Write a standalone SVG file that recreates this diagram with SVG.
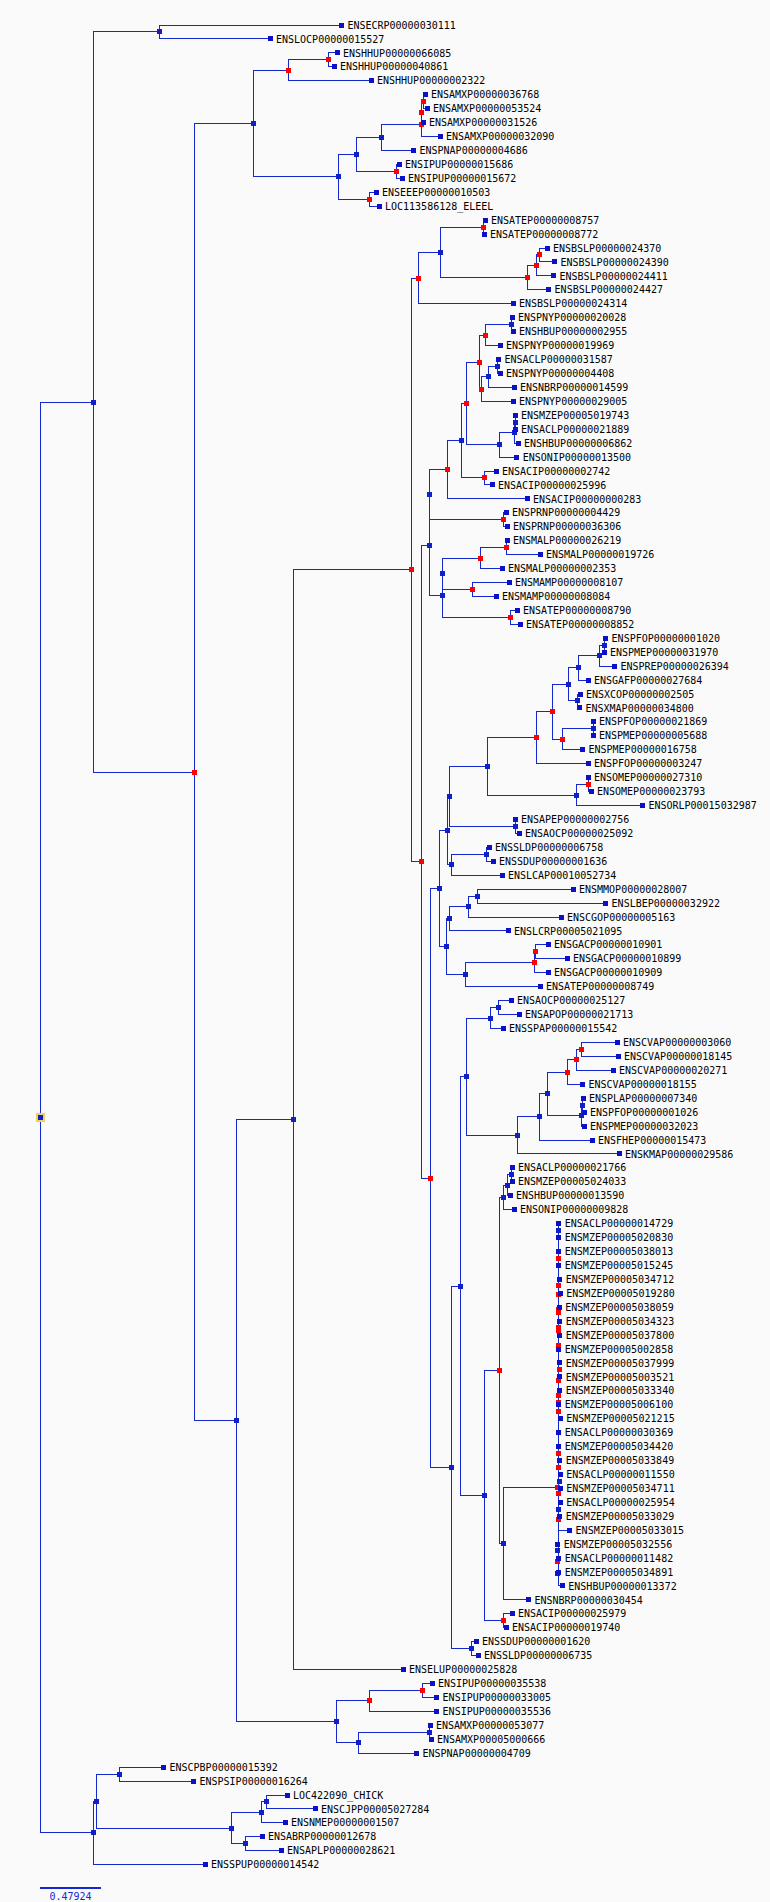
<svg xmlns="http://www.w3.org/2000/svg" xmlns:xlink="http://www.w3.org/1999/xlink" width="770" height="1902" viewBox="0 0 770 1902">
<style>
.e{fill:none;stroke:#1428d0;stroke-width:1;shape-rendering:crispEdges}
.lq{fill:#0c10c8}
.nb{fill:#1020c8}
.nr{fill:#ff0000}
use{shape-rendering:crispEdges}
text{font-family:"DejaVu Sans Mono","Liberation Mono",monospace;font-size:10px;fill:#000}
</style>
<defs><rect id="s" x="-2.5" y="-2.5" width="5" height="5"/></defs>
<rect width="770" height="1902" fill="#fafafa"/>
<g id="connectors" class="e">
<path d="M93 402H40.8V1832.9H93.3"/>
<path d="M159.6 31.95H93V772.1H194.5"/>
<path d="M341.4 25H159.6V38.9H270"/>
<path d="M253.4 123.55H194.5V1420.7H236.7"/>
<path d="M288.3 70.3H253.4V176.8H338.4"/>
<path d="M328.6 59.85H288.3V80.7H371"/>
<path d="M337 52.9H328.6V66.8H334"/>
<path d="M356.6 154.35H338.4V199.2H369.4"/>
<path d="M381.6 137.35H356.6V171.35H396.4"/>
<path d="M421.4 124.3H381.6V150.4H413.5"/>
<path d="M421.4 112.1V136.5H440"/>
<path d="M423.4 101.65H421.4V122.6H423"/>
<path d="M425 94.7H423.4V108.6H427"/>
<path d="M399 164.4H396.4V178.3H402"/>
<path d="M376 192.2H369.4V206.2H379"/>
<path d="M293.7 1119.65H236.7V1721.8H336.4"/>
<path d="M411.6 569.8H293.7V1669.5H403"/>
<path d="M418.5 278H411.6V861.6H421.4"/>
<path d="M440.6 252.35H418.5V303.7H513"/>
<path d="M483.8 227.1H440.6V277.6H527.5"/>
<path d="M485 220.1H483.8V234.1H484"/>
<path d="M536.3 265.4H527.5V289.8H548.6"/>
<path d="M539.8 254.95H536.3V275.9H553.5"/>
<path d="M547 248H539.8V261.9H554.5"/>
<path d="M429.8 545.2H421.4V1178H430.7"/>
<path d="M429.8 494.8V595.6H442.5"/>
<path d="M447 469.8H429.8V519.75H503.4"/>
<path d="M461.7 440.7H447V498.9H527"/>
<path d="M466.1 403.45H461.7V477.95H484.8"/>
<path d="M479.4 362.1H466.1V444.8H499.5"/>
<path d="M485.8 335.1H479.4V389.1H481.3"/>
<path d="M511.8 324.65H485.8V345.6H500"/>
<path d="M512 317.7H511.8V331.6H513"/>
<path d="M488.7 376.9H481.3V401.3H513"/>
<path d="M497.5 366.45H488.7V387.4H514"/>
<path d="M498.5 359.5H497.5V373.4H500"/>
<path d="M514.7 432.65H499.5V457H516.7"/>
<path d="M515.2 422.2H514.7V443.1H518"/>
<path d="M515 415.2H515.2V429.2H515"/>
<path d="M496 471H484.8V484.9H492"/>
<path d="M506 512.8H503.4V526.7H507"/>
<path d="M442.5 573.8V617.35H510.8"/>
<path d="M480.4 558.1H442.5V589.45H472.5"/>
<path d="M506.4 547.65H480.4V568.5H502"/>
<path d="M507 540.7H506.4V554.6H540"/>
<path d="M509 582.5H472.5V596.4H496"/>
<path d="M517 610.4H510.8V624.3H520"/>
<path d="M439.6 888.6H430.7V1467.4H451.9"/>
<path d="M447.4 830.55H439.6V946.6H446.5"/>
<path d="M449.4 796.4H447.4V864.7H451.4"/>
<path d="M487.7 766.4H449.4V826.35H515.2"/>
<path d="M536.3 737.75H487.7V795H576.1"/>
<path d="M552.6 711.8H536.3V763.7H588"/>
<path d="M568.8 684.4H552.6V739.25H562.4"/>
<path d="M578.6 667.8H568.8V700.95H577.1"/>
<path d="M599.7 655.65H578.6V680H588"/>
<path d="M604.1 645.2H599.7V666.1H614.5"/>
<path d="M605.6 638.2H604.1V652.2H604"/>
<path d="M580 694H577.1V707.9H579.5"/>
<path d="M593.3 728.8H562.4V749.7H582.5"/>
<path d="M593 721.8H593.3V735.8H593"/>
<path d="M588.4 784.55H576.1V805.5H642.4"/>
<path d="M588 777.6H588.4V791.5H591"/>
<path d="M515 819.4H515.2V833.3H519"/>
<path d="M486.2 854.25H451.4V875.2H502"/>
<path d="M489 847.3H486.2V861.2H493"/>
<path d="M449 918.7H446.5V974.5H465.6"/>
<path d="M468.6 906.5H449V930.9H508"/>
<path d="M477.4 896.05H468.6V917H561"/>
<path d="M573 889.1H477.4V903H605.6"/>
<path d="M534.4 962.25H465.6V986.7H540"/>
<path d="M535.4 951.8H534.4V972.7H548"/>
<path d="M548 944.8H535.4V958.8H567"/>
<path d="M460.7 1286.15H451.9V1648.65H471.5"/>
<path d="M466.6 1076.7H460.7V1495.6H484.8"/>
<path d="M490.7 1018H466.6V1135.4H517.2"/>
<path d="M498.5 1007.55H490.7V1028.5H503"/>
<path d="M511 1000.6H498.5V1014.5H519"/>
<path d="M539.8 1116.9H517.2V1153.9H619"/>
<path d="M547.6 1093.8H539.8V1140H592"/>
<path d="M567.8 1072H547.6V1115.55H581.5"/>
<path d="M576.1 1059.8H567.8V1084.2H582.5"/>
<path d="M581.5 1049.35H576.1V1070.3H613"/>
<path d="M617 1042.4H581.5V1056.3H618"/>
<path d="M582.5 1105.1H581.5V1126H584"/>
<path d="M583 1098.1H582.5V1112.1H584"/>
<path d="M499.5 1370.5H484.8V1620.75H503.4"/>
<path d="M503.4 1197.4H499.5V1543.6H503.4"/>
<path d="M507.4 1185.25H503.4V1209.6H514"/>
<path d="M511.8 1174.8H507.4V1195.7H510"/>
<path d="M512 1167.8H511.8V1181.8H512"/>
<path d="M558 1487.3H503.4V1599.9H528.5"/>
<path d="M558 1223.6V1585.9H562.3M558 1530.2H569.6"/>
<path d="M512 1613.8H503.4V1627.7H506"/>
<path d="M476 1641.7H471.5V1655.6H478"/>
<path d="M369.4 1700.9H336.4V1742.7H358.5"/>
<path d="M422.4 1690.45H369.4V1711.4H436.6"/>
<path d="M432 1683.5H422.4V1697.4H436.6"/>
<path d="M429.8 1732.25H358.5V1753.2H416.5"/>
<path d="M430 1725.3H429.8V1739.2H431"/>
<path d="M96.3 1801.1H93.3V1864.7H205"/>
<path d="M119.8 1774.05H96.3V1828.1H231.3"/>
<path d="M163.5 1767.1H119.8V1781H193.5"/>
<path d="M261.3 1812.4H231.3V1843.75H245.6"/>
<path d="M266.2 1801.95H261.3V1822.8H285"/>
<path d="M287 1795H266.2V1808.9H315"/>
<path d="M262 1836.8H245.6V1850.7H281"/>
</g>
<g id="root"><rect x="36" y="1113" width="9" height="9" fill="#f0d060"/><rect x="38" y="1115" width="5" height="5" fill="#1020c8"/></g>
<g id="n-A"><use href="#s" class="nb" x="93" y="402"/></g>
<g id="n-B"><use href="#s" class="nb" x="159.6" y="31.95"/></g>
<g id="n-C"><use href="#s" class="nr" x="194.5" y="772.1"/></g>
<g id="n-D"><use href="#s" class="nb" x="253.4" y="123.55"/></g>
<g id="n-E"><use href="#s" class="nr" x="288.3" y="70.3"/></g>
<g id="n-G"><use href="#s" class="nr" x="328.6" y="59.85"/></g>
<g id="n-F"><use href="#s" class="nb" x="338.4" y="176.8"/></g>
<g id="n-H"><use href="#s" class="nb" x="356.6" y="154.35"/></g>
<g id="n-J"><use href="#s" class="nb" x="381.6" y="137.35"/></g>
<g id="n-L"><use href="#s" class="nr" x="421.4" y="124.3"/></g>
<g id="n-M"><use href="#s" class="nr" x="421.4" y="112.1"/></g>
<g id="n-N"><use href="#s" class="nr" x="423.4" y="101.65"/></g>
<g id="n-K"><use href="#s" class="nr" x="396.4" y="171.35"/></g>
<g id="n-I"><use href="#s" class="nr" x="369.4" y="199.2"/></g>
<g id="n-O"><use href="#s" class="nb" x="236.7" y="1420.7"/></g>
<g id="n-P"><use href="#s" class="nb" x="293.7" y="1119.65"/></g>
<g id="n-Q"><use href="#s" class="nr" x="411.6" y="569.8"/></g>
<g id="n-QA"><use href="#s" class="nr" x="418.5" y="278"/></g>
<g id="n-QA1"><use href="#s" class="nb" x="440.6" y="252.35"/></g>
<g id="n-QAa"><use href="#s" class="nr" x="483.8" y="227.1"/></g>
<g id="n-QA12"><use href="#s" class="nr" x="527.5" y="277.6"/></g>
<g id="n-n2"><use href="#s" class="nr" x="536.3" y="265.4"/></g>
<g id="n-n1"><use href="#s" class="nr" x="539.8" y="254.95"/></g>
<g id="n-QB"><use href="#s" class="nr" x="421.4" y="861.6"/></g>
<g id="n-QB1"><use href="#s" class="nb" x="429.8" y="545.2"/></g>
<g id="n-QB1a"><use href="#s" class="nb" x="429.8" y="494.8"/></g>
<g id="n-p13"><use href="#s" class="nr" x="447" y="469.8"/></g>
<g id="n-p12"><use href="#s" class="nb" x="461.7" y="440.7"/></g>
<g id="n-p10"><use href="#s" class="nr" x="466.1" y="403.45"/></g>
<g id="n-p6"><use href="#s" class="nr" x="479.4" y="362.1"/></g>
<g id="n-p2"><use href="#s" class="nr" x="485.8" y="335.1"/></g>
<g id="n-p1"><use href="#s" class="nb" x="511.8" y="324.65"/></g>
<g id="n-p5"><use href="#s" class="nr" x="481.3" y="389.1"/></g>
<g id="n-p4"><use href="#s" class="nb" x="488.7" y="376.9"/></g>
<g id="n-p3"><use href="#s" class="nb" x="497.5" y="366.45"/></g>
<g id="n-p9"><use href="#s" class="nb" x="499.5" y="444.8"/></g>
<g id="n-p8"><use href="#s" class="nb" x="514.7" y="432.65"/></g>
<g id="n-p7"><use href="#s" class="nb" x="515.2" y="422.2"/></g>
<g id="n-p11"><use href="#s" class="nr" x="484.8" y="477.95"/></g>
<g id="n-p14"><use href="#s" class="nr" x="503.4" y="519.75"/></g>
<g id="n-QB1b"><use href="#s" class="nb" x="442.5" y="595.6"/></g>
<g id="n-q4"><use href="#s" class="nb" x="442.5" y="573.8"/></g>
<g id="n-q2"><use href="#s" class="nr" x="480.4" y="558.1"/></g>
<g id="n-q1"><use href="#s" class="nr" x="506.4" y="547.65"/></g>
<g id="n-q3"><use href="#s" class="nr" x="472.5" y="589.45"/></g>
<g id="n-q5"><use href="#s" class="nr" x="510.8" y="617.35"/></g>
<g id="n-QB2"><use href="#s" class="nr" x="430.7" y="1178"/></g>
<g id="n-QB2a"><use href="#s" class="nb" x="439.6" y="888.6"/></g>
<g id="n-r17"><use href="#s" class="nb" x="447.4" y="830.55"/></g>
<g id="n-r14"><use href="#s" class="nb" x="449.4" y="796.4"/></g>
<g id="n-r12"><use href="#s" class="nb" x="487.7" y="766.4"/></g>
<g id="n-r9"><use href="#s" class="nr" x="536.3" y="737.75"/></g>
<g id="n-r8"><use href="#s" class="nr" x="552.6" y="711.8"/></g>
<g id="n-r5"><use href="#s" class="nb" x="568.8" y="684.4"/></g>
<g id="n-r3"><use href="#s" class="nb" x="578.6" y="667.8"/></g>
<g id="n-r2"><use href="#s" class="nb" x="599.7" y="655.65"/></g>
<g id="n-r1"><use href="#s" class="nb" x="604.1" y="645.2"/></g>
<g id="n-r4"><use href="#s" class="nb" x="577.1" y="700.95"/></g>
<g id="n-r7"><use href="#s" class="nr" x="562.4" y="739.25"/></g>
<g id="n-r6"><use href="#s" class="nb" x="593.3" y="728.8"/></g>
<g id="n-r11"><use href="#s" class="nb" x="576.1" y="795"/></g>
<g id="n-r10"><use href="#s" class="nr" x="588.4" y="784.55"/></g>
<g id="n-r13"><use href="#s" class="nb" x="515.2" y="826.35"/></g>
<g id="n-r16"><use href="#s" class="nb" x="451.4" y="864.7"/></g>
<g id="n-r15"><use href="#s" class="nb" x="486.2" y="854.25"/></g>
<g id="n-s7"><use href="#s" class="nb" x="446.5" y="946.6"/></g>
<g id="n-s3"><use href="#s" class="nb" x="449" y="918.7"/></g>
<g id="n-s2"><use href="#s" class="nb" x="468.6" y="906.5"/></g>
<g id="n-s1"><use href="#s" class="nb" x="477.4" y="896.05"/></g>
<g id="n-s6"><use href="#s" class="nb" x="465.6" y="974.5"/></g>
<g id="n-s5"><use href="#s" class="nr" x="534.4" y="962.25"/></g>
<g id="n-s4"><use href="#s" class="nr" x="535.4" y="951.8"/></g>
<g id="n-QB2b"><use href="#s" class="nb" x="451.9" y="1467.4"/></g>
<g id="n-u9"><use href="#s" class="nb" x="460.7" y="1286.15"/></g>
<g id="n-t11"><use href="#s" class="nb" x="466.6" y="1076.7"/></g>
<g id="n-t2"><use href="#s" class="nb" x="490.7" y="1018"/></g>
<g id="n-t1"><use href="#s" class="nb" x="498.5" y="1007.55"/></g>
<g id="n-t10"><use href="#s" class="nb" x="517.2" y="1135.4"/></g>
<g id="n-t9"><use href="#s" class="nb" x="539.8" y="1116.9"/></g>
<g id="n-t8"><use href="#s" class="nb" x="547.6" y="1093.8"/></g>
<g id="n-t5"><use href="#s" class="nr" x="567.8" y="1072"/></g>
<g id="n-t4"><use href="#s" class="nr" x="576.1" y="1059.8"/></g>
<g id="n-t3"><use href="#s" class="nr" x="581.5" y="1049.35"/></g>
<g id="n-t7"><use href="#s" class="nb" x="581.5" y="1115.55"/></g>
<g id="n-t6"><use href="#s" class="nb" x="582.5" y="1105.1"/></g>
<g id="n-u8"><use href="#s" class="nb" x="484.8" y="1495.6"/></g>
<g id="n-u6"><use href="#s" class="nr" x="499.5" y="1370.5"/></g>
<g id="n-u3"><use href="#s" class="nb" x="503.4" y="1197.4"/></g>
<g id="n-u2"><use href="#s" class="nb" x="507.4" y="1185.25"/></g>
<g id="n-u1"><use href="#s" class="nb" x="511.8" y="1174.8"/></g>
<g id="n-u5"><use href="#s" class="nb" x="503.4" y="1543.6"/></g>
<g id="n-u7"><use href="#s" class="nr" x="503.4" y="1620.75"/></g>
<g id="n-u10"><use href="#s" class="nb" x="471.5" y="1648.65"/></g>
<g id="n-mz">
<use href="#s" class="nb" x="558" y="1230.3"/><use href="#s" class="nr" x="558" y="1258"/><use href="#s" class="nr" x="558.5" y="1285"/><use href="#s" class="nr" x="558" y="1294.3"/><use href="#s" class="nr" x="558" y="1309.3"/><use href="#s" class="nr" x="558.5" y="1312.7"/><use href="#s" class="nr" x="558.5" y="1327.7"/><use href="#s" class="nr" x="558" y="1330.7"/><use href="#s" class="nr" x="558" y="1345"/><use href="#s" class="nr" x="559" y="1369.3"/><use href="#s" class="nr" x="558" y="1380"/><use href="#s" class="nr" x="558" y="1395.3"/><use href="#s" class="nr" x="558" y="1402"/><use href="#s" class="nr" x="558" y="1411.3"/><use href="#s" class="nr" x="558" y="1453.3"/><use href="#s" class="nr" x="558" y="1467"/><use href="#s" class="nb" x="559" y="1481.3"/><use href="#s" class="nr" x="557.5" y="1487.3"/><use href="#s" class="nr" x="558" y="1493.3"/><use href="#s" class="nb" x="558" y="1509.3"/><use href="#s" class="nr" x="558" y="1519.3"/><use href="#s" class="nb" x="557" y="1550.3"/><use href="#s" class="nr" x="557" y="1561.3"/><use href="#s" class="nb" x="557" y="1573.3"/>
</g>
<g id="n-R"><use href="#s" class="nb" x="336.4" y="1721.8"/></g>
<g id="n-S"><use href="#s" class="nr" x="369.4" y="1700.9"/></g>
<g id="n-U"><use href="#s" class="nr" x="422.4" y="1690.45"/></g>
<g id="n-T"><use href="#s" class="nb" x="358.5" y="1742.7"/></g>
<g id="n-V"><use href="#s" class="nb" x="429.8" y="1732.25"/></g>
<g id="n-W"><use href="#s" class="nb" x="93.3" y="1832.9"/></g>
<g id="n-X"><use href="#s" class="nb" x="96.3" y="1801.1"/></g>
<g id="n-Y"><use href="#s" class="nb" x="119.8" y="1774.05"/></g>
<g id="n-Z"><use href="#s" class="nb" x="231.3" y="1828.1"/></g>
<g id="n-AA"><use href="#s" class="nb" x="261.3" y="1812.4"/></g>
<g id="n-AC"><use href="#s" class="nb" x="266.2" y="1801.95"/></g>
<g id="n-AB"><use href="#s" class="nb" x="245.6" y="1843.75"/></g>
<g id="leaves">
<g id="ENSECRP00000030111"><use href="#s" class="lq" x="341.4" y="25"/><text x="347.4" y="28.6">ENSECRP00000030111</text></g>
<g id="ENSLOCP00000015527"><use href="#s" class="lq" x="270" y="38.9"/><text x="276" y="42.5">ENSLOCP00000015527</text></g>
<g id="ENSHHUP00000066085"><use href="#s" class="lq" x="337" y="52.9"/><text x="343" y="56.5">ENSHHUP00000066085</text></g>
<g id="ENSHHUP00000040861"><use href="#s" class="lq" x="334" y="66.8"/><text x="340" y="70.4">ENSHHUP00000040861</text></g>
<g id="ENSHHUP00000002322"><use href="#s" class="lq" x="371" y="80.7"/><text x="377" y="84.3">ENSHHUP00000002322</text></g>
<g id="ENSAMXP00000036768"><use href="#s" class="lq" x="425" y="94.7"/><text x="431" y="98.3">ENSAMXP00000036768</text></g>
<g id="ENSAMXP00000053524"><use href="#s" class="lq" x="427" y="108.6"/><text x="433" y="112.2">ENSAMXP00000053524</text></g>
<g id="ENSAMXP00000031526"><use href="#s" class="lq" x="423" y="122.6"/><text x="429" y="126.2">ENSAMXP00000031526</text></g>
<g id="ENSAMXP00000032090"><use href="#s" class="lq" x="440" y="136.5"/><text x="446" y="140.1">ENSAMXP00000032090</text></g>
<g id="ENSPNAP00000004686"><use href="#s" class="lq" x="413.5" y="150.4"/><text x="419.5" y="154">ENSPNAP00000004686</text></g>
<g id="ENSIPUP00000015686"><use href="#s" class="lq" x="399" y="164.4"/><text x="405" y="168">ENSIPUP00000015686</text></g>
<g id="ENSIPUP00000015672"><use href="#s" class="lq" x="402" y="178.3"/><text x="408" y="181.9">ENSIPUP00000015672</text></g>
<g id="ENSEEEP00000010503"><use href="#s" class="lq" x="376" y="192.2"/><text x="382" y="195.8">ENSEEEP00000010503</text></g>
<g id="LOC113586128_ELEEL"><use href="#s" class="lq" x="379" y="206.2"/><text x="385" y="209.8">LOC113586128_ELEEL</text></g>
<g id="ENSATEP00000008757"><use href="#s" class="lq" x="485" y="220.1"/><text x="491" y="223.7">ENSATEP00000008757</text></g>
<g id="ENSATEP00000008772"><use href="#s" class="lq" x="484" y="234.1"/><text x="490" y="237.7">ENSATEP00000008772</text></g>
<g id="ENSBSLP00000024370"><use href="#s" class="lq" x="547" y="248"/><text x="553" y="251.6">ENSBSLP00000024370</text></g>
<g id="ENSBSLP00000024390"><use href="#s" class="lq" x="554.5" y="261.9"/><text x="560.5" y="265.5">ENSBSLP00000024390</text></g>
<g id="ENSBSLP00000024411"><use href="#s" class="lq" x="553.5" y="275.9"/><text x="559.5" y="279.5">ENSBSLP00000024411</text></g>
<g id="ENSBSLP00000024427"><use href="#s" class="lq" x="548.6" y="289.8"/><text x="554.6" y="293.4">ENSBSLP00000024427</text></g>
<g id="ENSBSLP00000024314"><use href="#s" class="lq" x="513" y="303.7"/><text x="519" y="307.3">ENSBSLP00000024314</text></g>
<g id="ENSPNYP00000020028"><use href="#s" class="lq" x="512" y="317.7"/><text x="518" y="321.3">ENSPNYP00000020028</text></g>
<g id="ENSHBUP00000002955"><use href="#s" class="lq" x="513" y="331.6"/><text x="519" y="335.2">ENSHBUP00000002955</text></g>
<g id="ENSPNYP00000019969"><use href="#s" class="lq" x="500" y="345.6"/><text x="506" y="349.2">ENSPNYP00000019969</text></g>
<g id="ENSACLP00000031587"><use href="#s" class="lq" x="498.5" y="359.5"/><text x="504.5" y="363.1">ENSACLP00000031587</text></g>
<g id="ENSPNYP00000004408"><use href="#s" class="lq" x="500" y="373.4"/><text x="506" y="377">ENSPNYP00000004408</text></g>
<g id="ENSNBRP00000014599"><use href="#s" class="lq" x="514" y="387.4"/><text x="520" y="391">ENSNBRP00000014599</text></g>
<g id="ENSPNYP00000029005"><use href="#s" class="lq" x="513" y="401.3"/><text x="519" y="404.9">ENSPNYP00000029005</text></g>
<g id="ENSMZEP00005019743"><use href="#s" class="lq" x="515" y="415.2"/><text x="521" y="418.8">ENSMZEP00005019743</text></g>
<g id="ENSACLP00000021889"><use href="#s" class="lq" x="515" y="429.2"/><text x="521" y="432.8">ENSACLP00000021889</text></g>
<g id="ENSHBUP00000006862"><use href="#s" class="lq" x="518" y="443.1"/><text x="524" y="446.7">ENSHBUP00000006862</text></g>
<g id="ENSONIP00000013500"><use href="#s" class="lq" x="516.7" y="457"/><text x="522.7" y="460.6">ENSONIP00000013500</text></g>
<g id="ENSACIP00000002742"><use href="#s" class="lq" x="496" y="471"/><text x="502" y="474.6">ENSACIP00000002742</text></g>
<g id="ENSACIP00000025996"><use href="#s" class="lq" x="492" y="484.9"/><text x="498" y="488.5">ENSACIP00000025996</text></g>
<g id="ENSACIP00000000283"><use href="#s" class="lq" x="527" y="498.9"/><text x="533" y="502.5">ENSACIP00000000283</text></g>
<g id="ENSPRNP00000004429"><use href="#s" class="lq" x="506" y="512.8"/><text x="512" y="516.4">ENSPRNP00000004429</text></g>
<g id="ENSPRNP00000036306"><use href="#s" class="lq" x="507" y="526.7"/><text x="513" y="530.3">ENSPRNP00000036306</text></g>
<g id="ENSMALP00000026219"><use href="#s" class="lq" x="507" y="540.7"/><text x="513" y="544.3">ENSMALP00000026219</text></g>
<g id="ENSMALP00000019726"><use href="#s" class="lq" x="540" y="554.6"/><text x="546" y="558.2">ENSMALP00000019726</text></g>
<g id="ENSMALP00000002353"><use href="#s" class="lq" x="502" y="568.5"/><text x="508" y="572.1">ENSMALP00000002353</text></g>
<g id="ENSMAMP00000008107"><use href="#s" class="lq" x="509" y="582.5"/><text x="515" y="586.1">ENSMAMP00000008107</text></g>
<g id="ENSMAMP00000008084"><use href="#s" class="lq" x="496" y="596.4"/><text x="502" y="600">ENSMAMP00000008084</text></g>
<g id="ENSATEP00000008790"><use href="#s" class="lq" x="517" y="610.4"/><text x="523" y="614">ENSATEP00000008790</text></g>
<g id="ENSATEP00000008852"><use href="#s" class="lq" x="520" y="624.3"/><text x="526" y="627.9">ENSATEP00000008852</text></g>
<g id="ENSPFOP00000001020"><use href="#s" class="lq" x="605.6" y="638.2"/><text x="611.6" y="641.8">ENSPFOP00000001020</text></g>
<g id="ENSPMEP00000031970"><use href="#s" class="lq" x="604" y="652.2"/><text x="610" y="655.8">ENSPMEP00000031970</text></g>
<g id="ENSPREP00000026394"><use href="#s" class="lq" x="614.5" y="666.1"/><text x="620.5" y="669.7">ENSPREP00000026394</text></g>
<g id="ENSGAFP00000027684"><use href="#s" class="lq" x="588" y="680"/><text x="594" y="683.6">ENSGAFP00000027684</text></g>
<g id="ENSXCOP00000002505"><use href="#s" class="lq" x="580" y="694"/><text x="586" y="697.6">ENSXCOP00000002505</text></g>
<g id="ENSXMAP00000034800"><use href="#s" class="lq" x="579.5" y="707.9"/><text x="585.5" y="711.5">ENSXMAP00000034800</text></g>
<g id="ENSPFOP00000021869"><use href="#s" class="lq" x="593" y="721.8"/><text x="599" y="725.4">ENSPFOP00000021869</text></g>
<g id="ENSPMEP00000005688"><use href="#s" class="lq" x="593" y="735.8"/><text x="599" y="739.4">ENSPMEP00000005688</text></g>
<g id="ENSPMEP00000016758"><use href="#s" class="lq" x="582.5" y="749.7"/><text x="588.5" y="753.3">ENSPMEP00000016758</text></g>
<g id="ENSPFOP00000003247"><use href="#s" class="lq" x="588" y="763.7"/><text x="594" y="767.3">ENSPFOP00000003247</text></g>
<g id="ENSOMEP00000027310"><use href="#s" class="lq" x="588" y="777.6"/><text x="594" y="781.2">ENSOMEP00000027310</text></g>
<g id="ENSOMEP00000023793"><use href="#s" class="lq" x="591" y="791.5"/><text x="597" y="795.1">ENSOMEP00000023793</text></g>
<g id="ENSORLP00015032987"><use href="#s" class="lq" x="642.4" y="805.5"/><text x="648.4" y="809.1">ENSORLP00015032987</text></g>
<g id="ENSAPEP00000002756"><use href="#s" class="lq" x="515" y="819.4"/><text x="521" y="823">ENSAPEP00000002756</text></g>
<g id="ENSAOCP00000025092"><use href="#s" class="lq" x="519" y="833.3"/><text x="525" y="836.9">ENSAOCP00000025092</text></g>
<g id="ENSSLDP00000006758"><use href="#s" class="lq" x="489" y="847.3"/><text x="495" y="850.9">ENSSLDP00000006758</text></g>
<g id="ENSSDUP00000001636"><use href="#s" class="lq" x="493" y="861.2"/><text x="499" y="864.8">ENSSDUP00000001636</text></g>
<g id="ENSLCAP00010052734"><use href="#s" class="lq" x="502" y="875.2"/><text x="508" y="878.8">ENSLCAP00010052734</text></g>
<g id="ENSMMOP00000028007"><use href="#s" class="lq" x="573" y="889.1"/><text x="579" y="892.7">ENSMMOP00000028007</text></g>
<g id="ENSLBEP00000032922"><use href="#s" class="lq" x="605.6" y="903"/><text x="611.6" y="906.6">ENSLBEP00000032922</text></g>
<g id="ENSCGOP00000005163"><use href="#s" class="lq" x="561" y="917"/><text x="567" y="920.6">ENSCGOP00000005163</text></g>
<g id="ENSLCRP00005021095"><use href="#s" class="lq" x="508" y="930.9"/><text x="514" y="934.5">ENSLCRP00005021095</text></g>
<g id="ENSGACP00000010901"><use href="#s" class="lq" x="548" y="944.8"/><text x="554" y="948.4">ENSGACP00000010901</text></g>
<g id="ENSGACP00000010899"><use href="#s" class="lq" x="567" y="958.8"/><text x="573" y="962.4">ENSGACP00000010899</text></g>
<g id="ENSGACP00000010909"><use href="#s" class="lq" x="548" y="972.7"/><text x="554" y="976.3">ENSGACP00000010909</text></g>
<g id="ENSATEP00000008749"><use href="#s" class="lq" x="540" y="986.7"/><text x="546" y="990.3">ENSATEP00000008749</text></g>
<g id="ENSAOCP00000025127"><use href="#s" class="lq" x="511" y="1000.6"/><text x="517" y="1004.2">ENSAOCP00000025127</text></g>
<g id="ENSAPOP00000021713"><use href="#s" class="lq" x="519" y="1014.5"/><text x="525" y="1018.1">ENSAPOP00000021713</text></g>
<g id="ENSSPAP00000015542"><use href="#s" class="lq" x="503" y="1028.5"/><text x="509" y="1032.1">ENSSPAP00000015542</text></g>
<g id="ENSCVAP00000003060"><use href="#s" class="lq" x="617" y="1042.4"/><text x="623" y="1046">ENSCVAP00000003060</text></g>
<g id="ENSCVAP00000018145"><use href="#s" class="lq" x="618" y="1056.3"/><text x="624" y="1059.9">ENSCVAP00000018145</text></g>
<g id="ENSCVAP00000020271"><use href="#s" class="lq" x="613" y="1070.3"/><text x="619" y="1073.9">ENSCVAP00000020271</text></g>
<g id="ENSCVAP00000018155"><use href="#s" class="lq" x="582.5" y="1084.2"/><text x="588.5" y="1087.8">ENSCVAP00000018155</text></g>
<g id="ENSPLAP00000007340"><use href="#s" class="lq" x="583" y="1098.1"/><text x="589" y="1101.7">ENSPLAP00000007340</text></g>
<g id="ENSPFOP00000001026"><use href="#s" class="lq" x="584" y="1112.1"/><text x="590" y="1115.7">ENSPFOP00000001026</text></g>
<g id="ENSPMEP00000032023"><use href="#s" class="lq" x="584" y="1126"/><text x="590" y="1129.6">ENSPMEP00000032023</text></g>
<g id="ENSFHEP00000015473"><use href="#s" class="lq" x="592" y="1140"/><text x="598" y="1143.6">ENSFHEP00000015473</text></g>
<g id="ENSKMAP00000029586"><use href="#s" class="lq" x="619" y="1153.9"/><text x="625" y="1157.5">ENSKMAP00000029586</text></g>
<g id="ENSACLP00000021766"><use href="#s" class="lq" x="512" y="1167.8"/><text x="518" y="1171.4">ENSACLP00000021766</text></g>
<g id="ENSMZEP00005024033"><use href="#s" class="lq" x="512" y="1181.8"/><text x="518" y="1185.4">ENSMZEP00005024033</text></g>
<g id="ENSHBUP00000013590"><use href="#s" class="lq" x="510" y="1195.7"/><text x="516" y="1199.3">ENSHBUP00000013590</text></g>
<g id="ENSONIP00000009828"><use href="#s" class="lq" x="514" y="1209.6"/><text x="520" y="1213.2">ENSONIP00000009828</text></g>
<g id="ENSACLP00000014729"><use href="#s" class="lq" x="558.8" y="1223.6"/><text x="564.8" y="1227.2">ENSACLP00000014729</text></g>
<g id="ENSMZEP00005020830"><use href="#s" class="lq" x="558.8" y="1237.5"/><text x="564.8" y="1241.1">ENSMZEP00005020830</text></g>
<g id="ENSMZEP00005038013"><use href="#s" class="lq" x="558.8" y="1251.5"/><text x="564.8" y="1255.1">ENSMZEP00005038013</text></g>
<g id="ENSMZEP00005015245"><use href="#s" class="lq" x="558.8" y="1265.4"/><text x="564.8" y="1269">ENSMZEP00005015245</text></g>
<g id="ENSMZEP00005034712"><use href="#s" class="lq" x="559.8" y="1279.3"/><text x="565.8" y="1282.9">ENSMZEP00005034712</text></g>
<g id="ENSMZEP00005019280"><use href="#s" class="lq" x="560.3" y="1293.3"/><text x="566.3" y="1296.9">ENSMZEP00005019280</text></g>
<g id="ENSMZEP00005038059"><use href="#s" class="lq" x="559.3" y="1307.2"/><text x="565.3" y="1310.8">ENSMZEP00005038059</text></g>
<g id="ENSMZEP00005034323"><use href="#s" class="lq" x="559.8" y="1321.1"/><text x="565.8" y="1324.7">ENSMZEP00005034323</text></g>
<g id="ENSMZEP00005037800"><use href="#s" class="lq" x="559.8" y="1335.1"/><text x="565.8" y="1338.7">ENSMZEP00005037800</text></g>
<g id="ENSMZEP00005002858"><use href="#s" class="lq" x="558.8" y="1349"/><text x="564.8" y="1352.6">ENSMZEP00005002858</text></g>
<g id="ENSMZEP00005037999"><use href="#s" class="lq" x="559.8" y="1362.9"/><text x="565.8" y="1366.5">ENSMZEP00005037999</text></g>
<g id="ENSMZEP00005003521"><use href="#s" class="lq" x="559.8" y="1376.9"/><text x="565.8" y="1380.5">ENSMZEP00005003521</text></g>
<g id="ENSMZEP00005033340"><use href="#s" class="lq" x="559.8" y="1390.8"/><text x="565.8" y="1394.4">ENSMZEP00005033340</text></g>
<g id="ENSMZEP00005006100"><use href="#s" class="lq" x="558.8" y="1404.8"/><text x="564.8" y="1408.4">ENSMZEP00005006100</text></g>
<g id="ENSMZEP00005021215"><use href="#s" class="lq" x="560.3" y="1418.7"/><text x="566.3" y="1422.3">ENSMZEP00005021215</text></g>
<g id="ENSACLP00000030369"><use href="#s" class="lq" x="558.8" y="1432.6"/><text x="564.8" y="1436.2">ENSACLP00000030369</text></g>
<g id="ENSMZEP00005034420"><use href="#s" class="lq" x="558.8" y="1446.6"/><text x="564.8" y="1450.2">ENSMZEP00005034420</text></g>
<g id="ENSMZEP00005033849"><use href="#s" class="lq" x="559.8" y="1460.5"/><text x="565.8" y="1464.1">ENSMZEP00005033849</text></g>
<g id="ENSACLP00000011550"><use href="#s" class="lq" x="560.3" y="1474.4"/><text x="566.3" y="1478">ENSACLP00000011550</text></g>
<g id="ENSMZEP00005034711"><use href="#s" class="lq" x="560.3" y="1488.4"/><text x="566.3" y="1492">ENSMZEP00005034711</text></g>
<g id="ENSACLP00000025954"><use href="#s" class="lq" x="560.3" y="1502.3"/><text x="566.3" y="1505.9">ENSACLP00000025954</text></g>
<g id="ENSMZEP00005033029"><use href="#s" class="lq" x="559.8" y="1516.3"/><text x="565.8" y="1519.9">ENSMZEP00005033029</text></g>
<g id="ENSMZEP00005033015"><use href="#s" class="lq" x="569.6" y="1530.2"/><text x="575.6" y="1533.8">ENSMZEP00005033015</text></g>
<g id="ENSMZEP00005032556"><use href="#s" class="lq" x="557.8" y="1544.1"/><text x="563.8" y="1547.7">ENSMZEP00005032556</text></g>
<g id="ENSACLP00000011482"><use href="#s" class="lq" x="558.8" y="1558.1"/><text x="564.8" y="1561.7">ENSACLP00000011482</text></g>
<g id="ENSMZEP00005034891"><use href="#s" class="lq" x="558.8" y="1572"/><text x="564.8" y="1575.6">ENSMZEP00005034891</text></g>
<g id="ENSHBUP00000013372"><use href="#s" class="lq" x="562.3" y="1585.9"/><text x="568.3" y="1589.5">ENSHBUP00000013372</text></g>
<g id="ENSNBRP00000030454"><use href="#s" class="lq" x="528.5" y="1599.9"/><text x="534.5" y="1603.5">ENSNBRP00000030454</text></g>
<g id="ENSACIP00000025979"><use href="#s" class="lq" x="512" y="1613.8"/><text x="518" y="1617.4">ENSACIP00000025979</text></g>
<g id="ENSACIP00000019740"><use href="#s" class="lq" x="506" y="1627.7"/><text x="512" y="1631.3">ENSACIP00000019740</text></g>
<g id="ENSSDUP00000001620"><use href="#s" class="lq" x="476" y="1641.7"/><text x="482" y="1645.3">ENSSDUP00000001620</text></g>
<g id="ENSSLDP00000006735"><use href="#s" class="lq" x="478" y="1655.6"/><text x="484" y="1659.2">ENSSLDP00000006735</text></g>
<g id="ENSELUP00000025828"><use href="#s" class="lq" x="403" y="1669.5"/><text x="409" y="1673.1">ENSELUP00000025828</text></g>
<g id="ENSIPUP00000035538"><use href="#s" class="lq" x="432" y="1683.5"/><text x="438" y="1687.1">ENSIPUP00000035538</text></g>
<g id="ENSIPUP00000033005"><use href="#s" class="lq" x="436.6" y="1697.4"/><text x="442.6" y="1701">ENSIPUP00000033005</text></g>
<g id="ENSIPUP00000035536"><use href="#s" class="lq" x="436.6" y="1711.4"/><text x="442.6" y="1715">ENSIPUP00000035536</text></g>
<g id="ENSAMXP00000053077"><use href="#s" class="lq" x="430" y="1725.3"/><text x="436" y="1728.9">ENSAMXP00000053077</text></g>
<g id="ENSAMXP00005000666"><use href="#s" class="lq" x="431" y="1739.2"/><text x="437" y="1742.8">ENSAMXP00005000666</text></g>
<g id="ENSPNAP00000004709"><use href="#s" class="lq" x="416.5" y="1753.2"/><text x="422.5" y="1756.8">ENSPNAP00000004709</text></g>
<g id="ENSCPBP00000015392"><use href="#s" class="lq" x="163.5" y="1767.1"/><text x="169.5" y="1770.7">ENSCPBP00000015392</text></g>
<g id="ENSPSIP00000016264"><use href="#s" class="lq" x="193.5" y="1781"/><text x="199.5" y="1784.6">ENSPSIP00000016264</text></g>
<g id="LOC422090_CHICK"><use href="#s" class="lq" x="287" y="1795"/><text x="293" y="1798.6">LOC422090_CHICK</text></g>
<g id="ENSCJPP00005027284"><use href="#s" class="lq" x="315" y="1808.9"/><text x="321" y="1812.5">ENSCJPP00005027284</text></g>
<g id="ENSNMEP00000001507"><use href="#s" class="lq" x="285" y="1822.8"/><text x="291" y="1826.4">ENSNMEP00000001507</text></g>
<g id="ENSABRP00000012678"><use href="#s" class="lq" x="262" y="1836.8"/><text x="268" y="1840.4">ENSABRP00000012678</text></g>
<g id="ENSAPLP00000028621"><use href="#s" class="lq" x="281" y="1850.7"/><text x="287" y="1854.3">ENSAPLP00000028621</text></g>
<g id="ENSSPUP00000014542"><use href="#s" class="lq" x="205" y="1864.7"/><text x="211" y="1868.3">ENSSPUP00000014542</text></g>
</g>
<g id="scale"><rect x="40" y="1887" width="61" height="2" fill="#1428d0"/><text x="49.5" y="1899.5" style="fill:#1428d0">0.47924</text></g>
</svg>
